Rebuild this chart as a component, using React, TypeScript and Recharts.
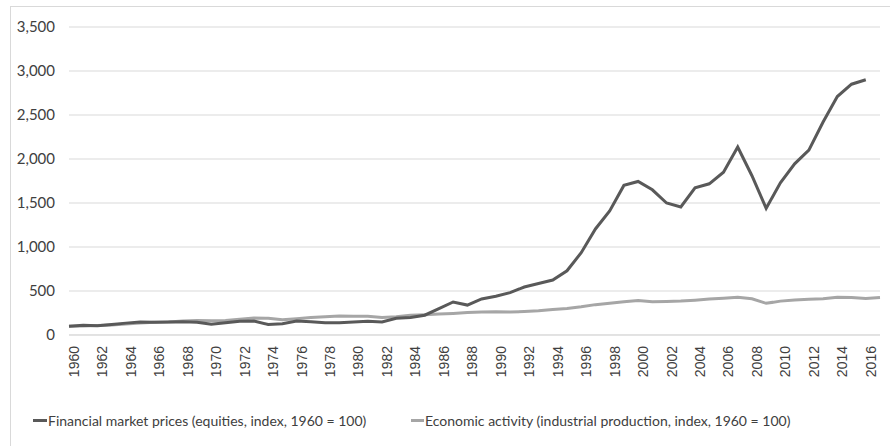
import React from 'react';
import { LineChart, Line, XAxis, YAxis, CartesianGrid, Legend } from 'recharts';

const years: string[] = [];
for (let y = 1960; y <= 2017; y++) years.push(String(y));

const financialPrices: (number | null)[] = [
  100, 112, 105, 120, 135, 148, 145, 148, 150, 145,
  122, 140, 155, 158, 120, 128, 158, 150, 138, 140,
  148, 155, 148, 190, 200, 225, 300, 375, 340, 410,
  440, 482, 545, 585, 625, 730, 935, 1205, 1410, 1700,
  1745, 1650, 1500, 1455, 1672, 1718, 1850, 2136, 1810, 1440,
  1730, 1945, 2100, 2420, 2710, 2850, 2900, null,
];

const industrialProduction: number[] = [
  100, 102, 108, 115, 125, 135, 145, 148, 158, 165,
  162, 165, 178, 192, 190, 172, 185, 198, 208, 215,
  212, 212, 200, 208, 225, 230, 238, 245, 255, 260,
  265, 260, 266, 275, 290, 302, 320, 345, 360, 378,
  392, 378, 380, 385, 395, 408, 418, 428, 412, 360,
  385, 398, 405, 412, 428, 425, 415, 425,
];

const yTicks = [0, 500, 1000, 1500, 2000, 2500, 3000, 3500];

const seriesNames = {
  fin: 'Financial market prices (equities, index, 1960 = 100)',
  ind: 'Economic activity (industrial production, index, 1960 = 100)',
};

const data = years.map((year, i) => ({
  year,
  fin: financialPrices[i],
  ind: industrialProduction[i],
}));

const fmt = (v: number) => v.toLocaleString('en-US');

const LegendContent = () => (
  <div style={{ position: 'relative', height: 20, fontFamily: 'Lato, sans-serif', fontSize: 14, color: '#404040' }}>
    <div style={{ position: 'absolute', left: 22, top: 0, display: 'flex', alignItems: 'center', whiteSpace: 'nowrap' }}>
      <span style={{ display: 'inline-block', width: 14, height: 3, background: '#595959', marginRight: 1 }} />
      <span>{seriesNames.fin}</span>
    </div>
    <div style={{ position: 'absolute', left: 400, top: 0, display: 'flex', alignItems: 'center', whiteSpace: 'nowrap' }}>
      <span style={{ display: 'inline-block', width: 13, height: 3, background: '#a6a6a6', marginRight: 1 }} />
      <span>{seriesNames.ind}</span>
    </div>
  </div>
);

export default function App() {
  return (
    <div
      style={{
        position: 'fixed',
        left: 10,
        top: 6,
        width: 880,
        height: 440,
        borderLeft: '1px solid #d9d9d9',
        borderTop: '1px solid #d9d9d9',
        background: '#fff',
      }}
    >
      <LineChart width={879} height={439} data={data} margin={{ top: 20, right: 10, left: 0, bottom: 14 }}>
        <CartesianGrid vertical={false} stroke="#d9d9d9" strokeWidth={1} />
        <XAxis
          dataKey="year"
          interval={1}
          tickLine={false}
          axisLine={{ stroke: '#d9d9d9' }}
          height={77}
          angle={-90}
          textAnchor="end"
          tickMargin={8}
          dy={-3}
          tick={{ fontFamily: 'Liberation Sans, Arial, sans-serif', fontSize: 14, fill: '#404040' }}
        />
        <YAxis
          ticks={yTicks}
          domain={[0, 3500]}
          tickFormatter={fmt}
          tickLine={false}
          axisLine={false}
          width={58}
          tickMargin={8}
          tick={{ fontFamily: 'Lato, sans-serif', fontSize: 15, fill: '#404040' }}
        />
        <Legend verticalAlign="bottom" content={<LegendContent />} />
        <Line
          type="linear"
          dataKey="ind"
          name={seriesNames.ind}
          stroke="#a6a6a6"
          strokeWidth={3}
          dot={false}
          isAnimationActive={false}
        />
        <Line
          type="linear"
          dataKey="fin"
          name={seriesNames.fin}
          stroke="#595959"
          strokeWidth={3}
          dot={false}
          isAnimationActive={false}
        />
      </LineChart>
    </div>
  );
}
